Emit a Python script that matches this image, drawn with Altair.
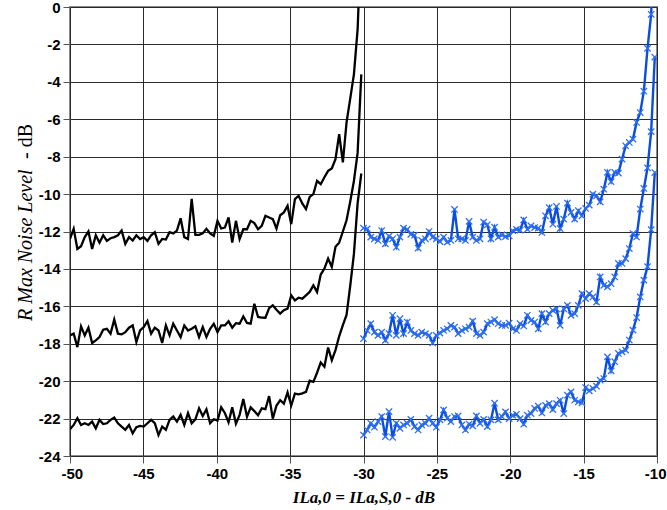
import altair as alt
import numpy as np
import pandas as pd

# ---------------- data ----------------
black_x = np.round(np.linspace(-50.0, -30.15, 80), 3)
blue_x = np.round(np.linspace(-30.0, -10.15, 81), 3)

black_top = [
    -12.39, -11.86, -12.93, -12.79, -12.3, -12.0, -12.93, -12.2, -12.6, -12.2,
    -12.5, -12.36, -12.3, -12.2, -11.95, -12.66, -12.3, -12.48, -12.2, -12.4,
    -12.3, -12.5, -12.2, -12.04, -12.66, -12.4, -12.43, -12.04, -12.1, -11.95,
    -11.29, -12.3, -12.4, -10.25, -12.18, -12.18, -12.1, -11.86, -12.1, -12.23,
    -11.43, -11.84, -11.79, -11.25, -12.59, -11.43, -12.41, -11.88, -11.88, -11.43,
    -11.55, -11.88, -11.7, -11.16, -11.25, -11.34, -11.84, -11.13, -10.98, -10.63,
    -11.61, -10.27, -10.09, -10.5, -10.8, -10.15, -10.0, -9.29, -9.47, -9.1,
    -8.76, -8.63, -8.13, -6.8, -8.3, -6.17, -4.9, -3.6, -1.2, 4.0,
]
black_mid = [
    -17.55, -17.46, -18.18, -17.07, -17.55, -17.14, -17.96, -17.82, -17.64, -17.25,
    -17.2, -17.46, -16.71, -17.46, -17.5, -17.38, -17.14, -17.02, -17.91, -17.29,
    -17.11, -16.79, -17.46, -17.14, -17.29, -17.96, -17.02, -17.55, -16.93, -17.29,
    -17.64, -17.02, -17.29, -17.2, -17.07, -17.64, -17.11, -17.64, -17.2, -16.93,
    -17.38, -17.02, -17.02, -16.8, -17.14, -16.9, -16.93, -16.54, -16.89, -16.93,
    -15.86, -16.57, -16.6, -16.61, -16.1, -15.95, -16.18, -16.39, -16.21, -16.12,
    -15.41, -15.68, -15.54, -15.59, -15.41, -15.23, -14.88, -15.23, -14.3, -13.98,
    -13.45, -13.89, -12.82, -12.6, -12.0, -11.4, -10.4, -9.3, -7.8, -3.6,
]
black_low = [
    -22.57, -22.34, -21.98, -22.34, -22.25, -22.34, -22.16, -22.52, -22.07, -22.29,
    -22.25, -22.07, -21.95, -22.25, -22.43, -22.6, -22.34, -22.79, -22.46, -22.39,
    -22.43, -22.25, -22.07, -22.25, -22.88, -22.43, -22.6, -22.07, -21.89, -22.16,
    -21.8, -22.34, -21.71, -22.25, -22.04, -21.45, -21.86, -21.5, -22.25, -22.04,
    -22.1, -21.4, -21.7, -22.2, -21.4, -22.27, -21.8, -20.95, -21.9, -21.4,
    -21.6, -21.82, -21.45, -21.5, -20.8, -22.0, -21.3, -21.02, -21.2, -20.6,
    -21.3, -20.66, -20.7, -20.65, -20.57, -19.98, -20.04, -19.55, -19.0, -19.23,
    -18.2, -18.88, -18.34, -17.6, -17.0, -16.46, -14.9, -13.2, -10.5, -8.9,
]
blue_top = [
    -11.82, -11.86, -12.3, -12.39, -12.48, -11.95, -12.66, -12.25, -12.39, -12.84,
    -12.3, -11.82, -11.89, -12.15, -12.2, -12.89, -12.48, -12.39, -12.0, -12.3,
    -12.39, -12.54, -12.3, -12.57, -12.48, -10.82, -12.39, -12.39, -12.48, -11.46,
    -12.3, -12.48, -12.39, -11.5, -11.64, -12.39, -11.77, -12.3, -12.18,
    -12.27, -12.23, -11.96, -11.88, -11.93, -11.38, -11.88, -11.7, -11.79, -11.82,
    -12.05, -11.16, -10.72, -11.61, -10.66, -11.84, -11.34, -10.48, -10.98, -11.34,
    -10.89, -11.16, -10.77, -10.59, -10.0, -10.09, -10.41, -9.74, -8.84, -9.34,
    -8.84, -8.88, -8.13, -7.42, -7.24, -7.06, -6.17, -5.64, -4.5, -2.21,
    -0.39, 5.0,
]
blue_mid = [
    -17.73, -17.29, -16.93, -17.38, -17.55, -17.38, -17.82, -17.46, -16.48, -17.55,
    -16.66, -17.46, -16.84, -17.29, -17.46, -17.55, -17.38, -17.46, -17.55, -17.96,
    -17.55, -17.43, -17.29, -17.2, -17.02, -17.11, -17.46, -17.29, -17.2, -17.11,
    -16.79, -17.46, -17.55, -17.38, -16.93, -16.84, -16.71, -16.93, -17.02,
    -17.02, -16.9, -17.2, -17.29, -16.93, -17.05, -16.48, -16.75, -16.84, -17.2,
    -16.39, -16.84, -16.39, -16.21, -16.13, -17.02, -16.13, -15.95, -16.48, -16.39,
    -15.95, -15.32, -15.59, -15.32, -15.5, -15.77, -14.43, -14.88, -14.96, -14.79,
    -14.43, -13.71, -13.71, -13.45, -12.91, -12.11, -12.29, -10.8, -9.7, -8.6,
    -6.66, -2.68,
]
blue_low = [
    -22.88, -22.61, -22.25, -22.46, -22.16, -21.89, -22.96, -21.63, -23.0, -22.25,
    -22.52, -22.34, -22.25, -22.04, -22.43, -22.61, -22.34, -22.25, -21.98, -22.25,
    -22.46, -22.07, -21.54, -21.98, -22.16, -21.89, -21.86, -22.34, -22.61, -22.29,
    -22.39, -21.86, -22.25, -22.04, -22.43, -22.07, -21.18, -22.07, -21.89,
    -21.64, -22.0, -21.82, -21.77, -22.0, -22.3, -21.82, -21.73, -21.46, -21.34,
    -21.7, -21.3, -21.2, -21.52, -21.2, -21.02, -21.73, -20.75, -20.57, -21.02,
    -21.11, -21.16, -20.34, -20.52, -20.39, -20.27, -19.95, -19.86, -18.7, -19.45,
    -18.96, -18.52, -18.43, -18.34, -17.8, -17.27, -16.6, -15.5, -14.6, -13.88,
    -11.9, -8.85,
]

x_ticks = [-50, -45, -40, -35, -30, -25, -20, -15, -10]
y_ticks = [-24, -22, -20, -18, -16, -14, -12, -10, -8, -6, -4, -2, 0]

y_title_italic = ["R Max Noise Level"]
y_title_plain = ["- dB"]
x_title = "ILa,0 = ILa,S,0 - dB"

BLUE = "#0a4ee0"

black_df = pd.concat([
    pd.DataFrame({"x": black_x, "y": vals, "s": name})
    for name, vals in [("b1", black_top), ("b2", black_mid), ("b3", black_low)]
])
blue_df = pd.concat([
    pd.DataFrame({"x": blue_x, "y": vals, "s": name})
    for name, vals in [("c1", blue_top), ("c2", blue_mid), ("c3", blue_low)]
])

x_enc = alt.X(
    "x:Q",
    scale=alt.Scale(domain=[-50, -10], nice=False, zero=False),
    axis=alt.Axis(
        values=x_ticks,
        tickCount=20,
        title=x_title,
        labelExpr="'' + datum.value",
        labelPadding=3,
        labelFlush=True,
        labelFlushOffset=9,
        titleFont="Liberation Serif",
        titleFontStyle="italic",
        titleFontWeight="bold",
        titleFontSize=17,
        titlePadding=8,
    ),
)
y_enc = alt.Y(
    "y:Q",
    scale=alt.Scale(domain=[-24, 0], nice=False, zero=False),
    axis=alt.Axis(
        values=y_ticks,
        tickCount=30,
        title="",
        labelExpr="'' + datum.value",
        labelPadding=3,
        labelFlush=False,
    ),
)

black_layer = alt.Chart(black_df).mark_line(
    color="black", strokeWidth=2.3, clip=True
).encode(x=x_enc, y=y_enc, detail="s:N")

blue_layer = alt.Chart(blue_df).mark_line(
    color=BLUE,
    strokeWidth=2.4,
    clip=True,
    point=alt.OverlayMarkDef(
        shape="M-1,-1L1,1M-1,1L1,-1",
        filled=False,
        stroke="#2f6ff2",
        strokeWidth=1.3,
        size=40,
        clip=True,
    ),
).encode(x="x:Q", y="y:Q", detail="s:N")

# y-axis title: italic name, upright unit
ytitle_a = alt.Chart(pd.DataFrame({"t": y_title_italic})).mark_text(
    angle=270, align="left", baseline="alphabetic",
    font="Liberation Serif", fontStyle="italic", fontSize=20, color="black",
).encode(x=alt.value(-38), y=alt.value(314), text="t:N")

ytitle_b = alt.Chart(pd.DataFrame({"t": y_title_plain})).mark_text(
    angle=270, align="left", baseline="alphabetic",
    font="Liberation Serif", fontSize=20, color="black",
).encode(x=alt.value(-38), y=alt.value(152), text="t:N")

chart = (
    alt.layer(black_layer, blue_layer, ytitle_a, ytitle_b)
    .properties(
        width=587,
        height=449,
        autosize=alt.AutoSizeParams(type="none"),
        padding={"left": 70, "top": 7, "right": 10, "bottom": 54},
        background="white",
    )
    .configure_view(stroke="#8a8a8a", strokeWidth=2)
    .configure_axis(
        grid=True,
        gridColor="#2a2a2a",
        gridWidth=1,
        gridOpacity=1,
        domain=False,
        tickColor="#555555",
        tickSize=7,
        tickWidth=1,
        labelOverlap=False,
        labelFont="Liberation Sans",
        labelFontWeight="bold",
        labelFontSize=15,
        labelColor="black",
        titleColor="black",
    )
)

chart.save("out.html", embed_options={"renderer": "svg", "actions": False})
